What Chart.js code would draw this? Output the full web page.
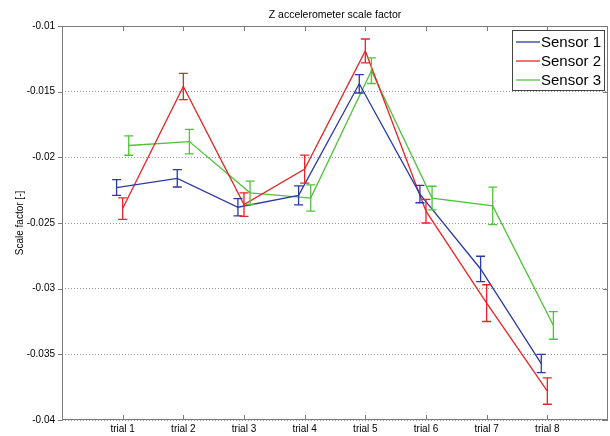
<!DOCTYPE html>
<html lang="en">
<head>
    <meta charset="UTF-8">
    <title>Z accelerometer scale factor</title>
    <script src="https://cdn.jsdelivr.net/npm/chart.js"></script>
    <style>
        body { margin: 0; background: #fff; }
        #wrap { width: 610px; height: 436px; }
    </style>
</head>
<body>
    <div id="wrap"><canvas id="scaleChart" width="610" height="436"></canvas></div>
    <script>
        // Data
        const trials = ['trial 1', 'trial 2', 'trial 3', 'trial 4', 'trial 5', 'trial 6', 'trial 7', 'trial 8'];
        const sensor1 = [-0.0223, -0.0216, -0.0238, -0.0229, -0.0144, -0.0228, -0.0285, -0.0357];
        const sensor1Err = [0.0006, 0.00066, 0.00066, 0.00072, 0.0007, 0.00066, 0.00097, 0.0007];
        const sensor2 = [-0.0239, -0.0146, -0.0236, -0.0209, -0.0119, -0.0241, -0.0311, -0.0378];
        const sensor2Err = [0.00082, 0.001, 0.0009, 0.00107, 0.00091, 0.0009, 0.0014, 0.001];
        const sensor3 = [-0.0191, -0.0188, -0.0227, -0.0231, -0.0134, -0.0231, -0.0237, -0.0328];
        const sensor3Err = [0.00074, 0.00093, 0.00089, 0.001, 0.00098, 0.0009, 0.00143, 0.00105];

        const FONT = 'Arial, "Liberation Sans", sans-serif';

        function series(label, color, values, errs, shift) {
            return {
                label: label,
                borderColor: color,
                backgroundColor: color,
                borderWidth: 1.3,
                pointRadius: 0,
                tension: 0,
                fill: false,
                errors: errs,
                data: values.map((v, i) => ({ x: i + 1 + shift, y: v }))
            };
        }

        // error bars drawn through the chart scales
        const errorBars = {
            id: 'errorBars',
            afterDatasetsDraw(chart) {
                const ctx = chart.ctx, xs = chart.scales.x, ys = chart.scales.y;
                chart.data.datasets.forEach(ds => {
                    ctx.save();
                    ctx.strokeStyle = ds.borderColor;
                    ctx.lineWidth = 1.3;
                    ds.data.forEach((p, i) => {
                        const px = xs.getPixelForValue(p.x);
                        const top = ys.getPixelForValue(p.y + ds.errors[i]);
                        const bot = ys.getPixelForValue(p.y - ds.errors[i]);
                        ctx.beginPath();
                        ctx.moveTo(px, top); ctx.lineTo(px, bot);
                        ctx.moveTo(px - 4.5, top); ctx.lineTo(px + 4.5, top);
                        ctx.moveTo(px - 4.5, bot); ctx.lineTo(px + 4.5, bot);
                        ctx.stroke();
                    });
                    ctx.restore();
                });
            }
        };

        // MATLAB style box, ticks, title and legend
        const frame = {
            id: 'frame',
            afterDraw(chart) {
                const ctx = chart.ctx, a = chart.chartArea;
                const xs = chart.scales.x, ys = chart.scales.y;
                ctx.save();
                ctx.strokeStyle = '#7a7a7a';
                ctx.lineWidth = 1;
                ctx.strokeRect(a.left + 0.5, a.top + 0.5, a.right - a.left - 1, a.bottom - a.top - 1);
                ctx.beginPath();
                xs.ticks.forEach(t => {
                    const px = Math.round(xs.getPixelForValue(t.value)) + 0.5;
                    ctx.moveTo(px, a.bottom); ctx.lineTo(px, a.bottom - 5);
                    ctx.moveTo(px, a.top); ctx.lineTo(px, a.top + 5);
                });
                ys.ticks.forEach(t => {
                    const py = Math.round(ys.getPixelForValue(t.value)) + 0.5;
                    ctx.moveTo(a.left - 4, py); ctx.lineTo(a.left, py);
                    ctx.moveTo(a.right, py); ctx.lineTo(a.right - 5, py);
                });
                ctx.stroke();

                // title
                ctx.fillStyle = '#000';
                ctx.font = '10.5px ' + FONT;
                ctx.textAlign = 'center';
                ctx.textBaseline = 'middle';
                ctx.fillText('Z accelerometer scale factor', (a.left + a.right) / 2, 15);

                // legend
                const lx = 512, ly = 30, lw = 92, lh = 60;
                ctx.fillStyle = '#fff';
                ctx.fillRect(lx, ly, lw, lh);
                ctx.strokeStyle = '#444';
                ctx.strokeRect(lx + 0.5, ly + 0.5, lw, lh);
                ctx.font = '15px ' + FONT;
                ctx.textAlign = 'left';
                chart.data.datasets.forEach((ds, i) => {
                    const cy = ly + 12 + i * 19;
                    ctx.strokeStyle = ds.borderColor;
                    ctx.lineWidth = 1.3;
                    ctx.beginPath();
                    ctx.moveTo(lx + 4, cy); ctx.lineTo(lx + 28, cy);
                    ctx.stroke();
                    ctx.fillStyle = '#000';
                    ctx.fillText(ds.label, lx + 29, cy + 1);
                });
                ctx.restore();
            }
        };

        const ctx = document.getElementById('scaleChart').getContext('2d');
        new Chart(ctx, {
            type: 'line',
            data: {
                datasets: [
                    series('Sensor 1', '#2a3aa6', sensor1, sensor1Err, -0.1),
                    series('Sensor 2', '#e42626', sensor2, sensor2Err, 0),
                    series('Sensor 3', '#4fc23a', sensor3, sensor3Err, 0.1)
                ]
            },
            options: {
                responsive: false,
                animation: false,
                layout: { padding: { top: 26, right: 2, left: 0, bottom: 0 } },
                plugins: {
                    legend: { display: false },
                    tooltip: { enabled: false }
                },
                scales: {
                    x: {
                        type: 'linear',
                        min: 0,
                        max: 9,
                        afterBuildTicks: s => { s.ticks = s.ticks.filter(t => t.value >= 1 && t.value <= 8); },
                        afterFit: s => { s.height = 16; },
                        grid: { display: false, drawTicks: false },
                        border: { display: false },
                        ticks: {
                            stepSize: 1,
                            padding: 3,
                            maxRotation: 0,
                            color: '#000',
                            font: { family: FONT, size: 10 },
                            callback: v => trials[v - 1]
                        }
                    },
                    y: {
                        min: -0.04,
                        max: -0.01,
                        afterFit: s => { s.width = 62; },
                        grid: { color: '#9a9a9a', drawTicks: false },
                        border: { display: false, dash: [1, 2] },
                        ticks: {
                            stepSize: 0.005,
                            padding: 7,
                            color: '#000',
                            font: { family: FONT, size: 10 },
                            callback: v => String(+v.toFixed(3))
                        },
                        title: {
                            display: true,
                            text: 'Scale factor [-]',
                            color: '#000',
                            padding: { top: 14, bottom: 0 },
                            font: { family: FONT, size: 10 }
                        }
                    }
                }
            },
            plugins: [errorBars, frame]
        });
    </script>
</body>
</html>
